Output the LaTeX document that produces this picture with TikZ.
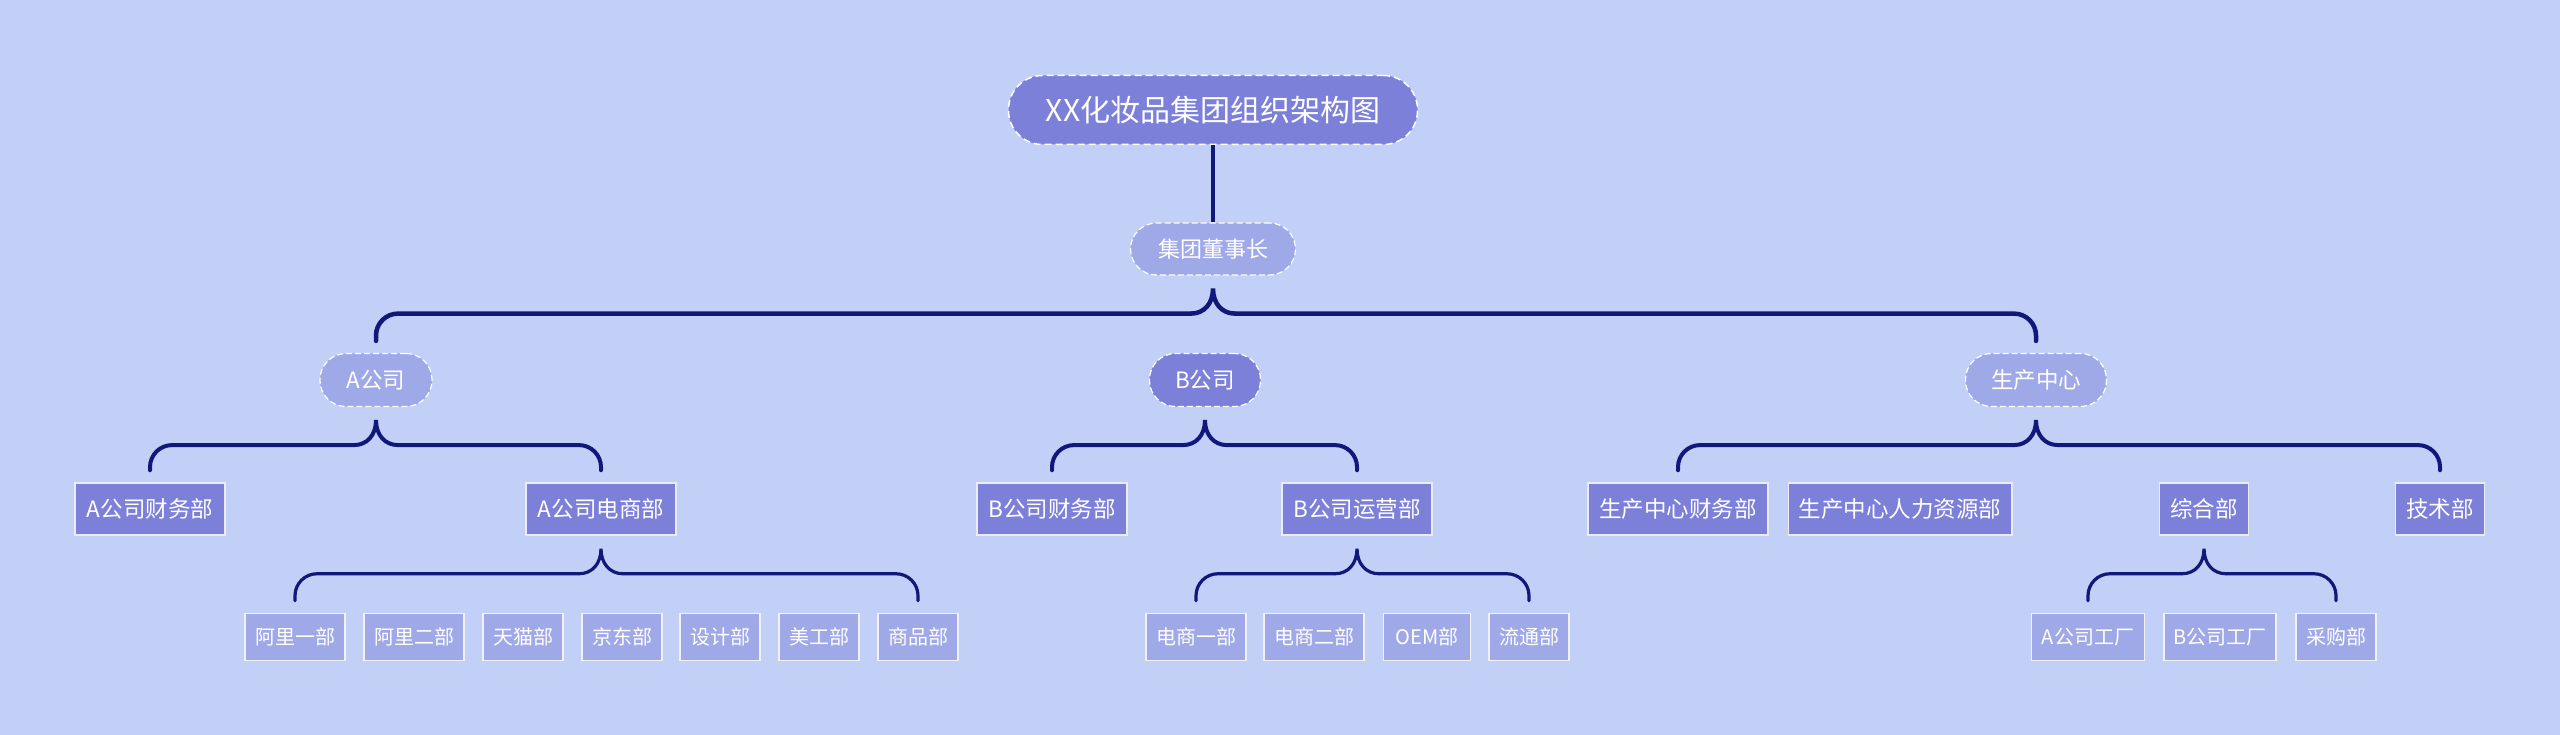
\documentclass[tikz,border=0pt]{standalone}
\usepackage{fontspec}
\setmainfont{Noto Sans CJK SC}
\usetikzlibrary{calc}
\definecolor{bgc}{RGB}{194,208,248}
\definecolor{dkc}{RGB}{124,128,217}
\definecolor{ltc}{RGB}{160,169,232}
\definecolor{lnc}{RGB}{16,24,122}
\newcommand\mybrace[4]{%
\draw[lnc, line width=#4, line cap=round, rounded corners=22pt] let \p1=(#1.south), \p2=(#2.north), \p3=(#3.north) in
 (\x2,{\y2+12pt}) -- (\x2,{\y1-38pt}) -- ({\x1-22pt},{\y1-38pt})
 (\x3,{\y3+12pt}) -- (\x3,{\y1-38pt}) -- ({\x1+22pt},{\y1-38pt});
\draw[lnc, line width=#4, line cap=round] let \p1=(#1.south) in
 ({\x1-22pt},{\y1-38pt}) .. controls ({\x1-9pt},{\y1-38pt}) and (\x1,{\y1-28pt}) .. (\x1,{\y1-13pt})
 .. controls (\x1,{\y1-28pt}) and ({\x1+9pt},{\y1-38pt}) .. ({\x1+22pt},{\y1-38pt});
}
\tikzset{
  base/.style={text=white, inner ysep=0pt, align=center},
  rootbox/.style={base, fill=dkc, draw=white, line width=1.5pt, dash pattern=on 7pt off 4pt,
     rounded corners=34pt, minimum width=409pt, minimum height=69pt,
     font=\fontsize{30pt}{36pt}\selectfont},
  chairbox/.style={base, fill=ltc, draw=white, line width=1.2pt, dash pattern=on 6pt off 3pt,
     rounded corners=26pt, minimum width=165pt, minimum height=52pt,
     font=\fontsize{22pt}{26pt}\selectfont},
  midbox/.style={base, draw=white, line width=1.2pt, dash pattern=on 6pt off 3pt,
     rounded corners=26pt, inner xsep=25pt, minimum height=53pt,
     font=\fontsize{22.5pt}{26pt}\selectfont},
  deptbox/.style={base, fill=dkc, draw=white!85!dkc, line width=1.5pt, inner xsep=10.5pt,
     minimum height=52pt, font=\fontsize{22.5pt}{26pt}\selectfont},
  leafbox/.style={base, fill=ltc, draw=white!85!ltc, line width=1.5pt, inner xsep=9.5pt,
     minimum height=47pt, font=\fontsize{20pt}{24pt}\selectfont},
}
\begin{document}
\begin{tikzpicture}[x=1pt, y=-1pt]
\useasboundingbox[fill=bgc] (0,0) rectangle (2560,735);
\node[rootbox] (root) at (1213,110) {XX化妆品集团组织架构图};
\node[chairbox] (chair) at (1213,249) {集团董事长};
\node[midbox, fill=ltc, minimum width=112pt] (A) at (376,380) {A公司};
\node[midbox, fill=dkc, minimum width=111pt] (B) at (1205,380) {B公司};
\node[midbox, fill=ltc, minimum width=141pt] (P) at (2036,380) {生产中心};
\node[deptbox, minimum width=150pt] (Afin) at (150,509) {A公司财务部};
\node[deptbox, minimum width=150pt] (Aec) at (601,509) {A公司电商部};
\node[deptbox, minimum width=150pt] (Bfin) at (1052,509) {B公司财务部};
\node[deptbox, minimum width=150pt] (Bop) at (1357,509) {B公司运营部};
\node[deptbox, minimum width=180pt] (Pfin) at (1678,509) {生产中心财务部};
\node[deptbox, minimum width=223pt] (Phr) at (1900,509) {生产中心人力资源部};
\node[deptbox, minimum width=89pt] (Pzh) at (2204,509) {综合部};
\node[deptbox, minimum width=89pt] (Ptech) at (2440,509) {技术部};
\node[leafbox, minimum width=100pt] (a1) at (295,637) {阿里一部};
\node[leafbox, minimum width=100pt] (a2) at (414,637) {阿里二部};
\node[leafbox, minimum width=80pt] (a3) at (523,637) {天猫部};
\node[leafbox, minimum width=80pt] (a4) at (622,637) {京东部};
\node[leafbox, minimum width=80pt] (a5) at (720,637) {设计部};
\node[leafbox, minimum width=80pt] (a6) at (819,637) {美工部};
\node[leafbox, minimum width=80pt] (a7) at (918,637) {商品部};
\node[leafbox, minimum width=100pt] (b1) at (1196,637) {电商一部};
\node[leafbox, minimum width=100pt] (b2) at (1314,637) {电商二部};
\node[leafbox, minimum width=87pt] (b3) at (1427,637) {OEM部};
\node[leafbox, minimum width=80pt] (b4) at (1529,637) {流通部};
\node[leafbox, minimum width=113pt] (c1) at (2088,637) {A公司工厂};
\node[leafbox, minimum width=112pt] (c2) at (2220,637) {B公司工厂};
\node[leafbox, minimum width=80pt] (c3) at (2336,637) {采购部};
\draw[lnc, line width=4.5pt] (root.south) -- (chair.north);
\mybrace{chair}{A}{P}{4.5pt}
\mybrace{A}{Afin}{Aec}{4pt}
\mybrace{B}{Bfin}{Bop}{4pt}
\mybrace{P}{Pfin}{Ptech}{4pt}
\mybrace{Aec}{a1}{a7}{3.2pt}
\mybrace{Bop}{b1}{b4}{3.2pt}
\mybrace{Pzh}{c1}{c3}{3.2pt}
\end{tikzpicture}
\end{document}
